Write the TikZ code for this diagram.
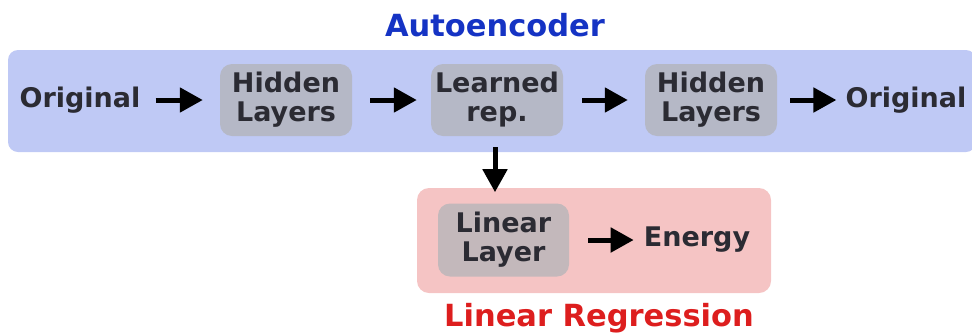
\documentclass[tikz,border=0pt]{standalone}
\usepackage{fontspec}
\setmainfont{DejaVu Sans}
\usetikzlibrary{arrows.meta}
\definecolor{txt}{HTML}{2B2B33}
\definecolor{bluebg}{HTML}{BFC9F5}
\definecolor{graybox}{HTML}{B5B8C6}
\definecolor{pinkbg}{HTML}{F5C4C4}
\definecolor{graypink}{HTML}{C3B8BB}
\definecolor{titleblue}{HTML}{1533C4}
\definecolor{titlered}{HTML}{DD1E1E}
\tikzset{
  lbl/.style={font=\fontsize{27}{29}\selectfont\bfseries, text=txt, align=center, inner sep=0pt},
  blk/.style={lbl, rounded corners=12pt, minimum width=132pt, minimum height=72pt},
  arr/.style={line width=5pt, -{Triangle[length=23pt,width=24pt]}},
  ttl/.style={font=\fontsize{30.5}{32}\selectfont\bfseries, inner sep=0pt}
}
\begin{document}
\begin{tikzpicture}[x=1pt,y=-1pt]
\useasboundingbox (0,0) rectangle (972,333);
% containers
\fill[bluebg, rounded corners=10pt] (8,50) rectangle (976,152);
\fill[pinkbg, rounded corners=12pt] (417,188) rectangle (771,293);
% titles
\node[ttl, text=titleblue] (t1) at (495,25) {Autoencoder};
\node[ttl, text=titlered] (t2) at (599,318) {Linear Regression};
% nodes
\node[lbl] (o1) at (80,100) {Original};
\node[blk, fill=graybox] (h1) at (286,100) {Hidden\\Layers};
\node[blk, fill=graybox] (lr) at (497,100) {Learned\\ rep.};
\node[blk, fill=graybox] (h2) at (711,100) {Hidden\\Layers};
\node[lbl] (o2) at (906,100) {Original};
\node[blk, fill=graypink, minimum width=131pt, minimum height=73pt] (ll) at (503.5,240) {Linear\\Layer};
\node[lbl] (en) at (697,240) {Energy};
% arrows
\draw[arr] ([xshift=15pt]o1.east) -- ([xshift=-17pt]h1.west);
\draw[arr] ([xshift=18pt]h1.east) -- ([xshift=-14pt]lr.west);
\draw[arr] ([xshift=19pt]lr.east) -- ([xshift=-17pt]h2.west);
\draw[arr] ([xshift=13pt]h2.east) -- ([xshift=-9pt]o2.west);
\draw[arr] ([xshift=-2pt,yshift=-11pt]lr.south) -- ([xshift=-2pt,yshift=-56pt]lr.south);
\draw[arr] ([xshift=19pt]ll.east) -- ([xshift=-10pt]en.west);
\end{tikzpicture}
\end{document}
